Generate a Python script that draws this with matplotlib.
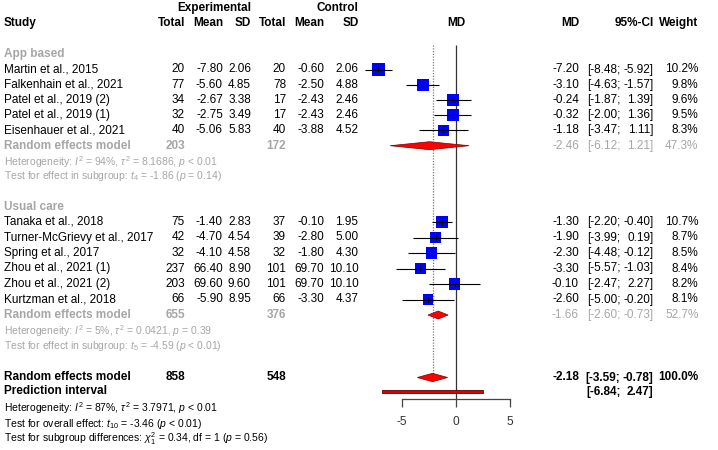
import matplotlib
matplotlib.use('Agg')
import matplotlib.pyplot as plt
from matplotlib.patches import Polygon, Rectangle

plt.rcParams['font.family'] = ['Liberation Sans', 'DejaVu Sans']
plt.rcParams['mathtext.fontset'] = 'custom'
plt.rcParams['mathtext.rm'] = 'Liberation Sans'
plt.rcParams['mathtext.it'] = 'Liberation Sans:italic'
plt.rcParams['mathtext.bf'] = 'Liberation Sans:bold'

# ---------------- data ----------------
app_studies = ["Martin et al., 2015", "Falkenhain et al., 2021", "Patel et al., 2019 (2)",
               "Patel et al., 2019 (1)", "Eisenhauer et al., 2021"]
app_e_total = [20, 77, 34, 32, 40]
app_e_mean = [-7.80, -5.60, -2.67, -2.75, -5.06]
app_e_sd = [2.06, 4.85, 3.38, 3.49, 5.83]
app_c_total = [20, 78, 17, 17, 40]
app_c_mean = [-0.60, -2.50, -2.43, -2.43, -3.88]
app_c_sd = [2.06, 4.88, 2.46, 2.46, 4.52]
app_md = [-7.20, -3.10, -0.24, -0.32, -1.18]
app_lo = [-8.48, -4.63, -1.87, -2.00, -3.47]
app_hi = [-5.92, -1.57, 1.39, 1.36, 1.11]
app_w = [10.2, 9.8, 9.6, 9.5, 8.3]

uc_studies = ["Tanaka et al., 2018", "Turner-McGrievy et al., 2017", "Spring et al., 2017",
              "Zhou et al., 2021 (1)", "Zhou et al., 2021 (2)", "Kurtzman et al., 2018"]
uc_e_total = [75, 42, 32, 237, 203, 66]
uc_e_mean = [-1.40, -4.70, -4.10, 66.40, 69.60, -5.90]
uc_e_sd = [2.83, 4.54, 4.58, 8.90, 9.60, 8.95]
uc_c_total = [37, 39, 32, 101, 101, 66]
uc_c_mean = [-0.10, -2.80, -1.80, 69.70, 69.70, -3.30]
uc_c_sd = [1.95, 5.00, 4.30, 10.10, 10.10, 4.37]
uc_md = [-1.30, -1.90, -2.30, -3.30, -0.10, -2.60]
uc_lo = [-2.20, -3.99, -4.48, -5.57, -2.47, -5.00]
uc_hi = [-0.40, 0.19, -0.12, -1.03, 2.27, -0.20]
uc_w = [10.7, 8.7, 8.5, 8.4, 8.2, 8.1]

# subgroup / overall summaries: e_total, c_total, md, lo, hi, weight
app_re = [203, 172, -2.46, -6.12, 1.21, 47.3]
uc_re = [655, 376, -1.66, -2.60, -0.73, 52.7]
overall_re = [858, 548, -2.18, -3.59, -0.78, 100.0]
pred_lo, pred_hi = -6.84, 2.47

app_het = r"Heterogeneity: $I^2$ = 94%, $\tau^2$ = 8.1686, $p$ < 0.01"
app_test = r"Test for effect in subgroup: $t_4$ = -1.86 ($p$ = 0.14)"
uc_het = r"Heterogeneity: $I^2$ = 5%, $\tau^2$ = 0.0421, $p$ = 0.39"
uc_test = r"Test for effect in subgroup: $t_5$ = -4.59 ($p$ < 0.01)"
all_het = r"Heterogeneity: $I^2$ = 87%, $\tau^2$ = 3.7971, $p$ < 0.01"
all_test = r"Test for overall effect: $t_{10}$ = -3.46 ($p$ < 0.01)"
sub_test = r"Test for subgroup differences: $\chi^2_1$ = 0.34, df = 1 ($p$ = 0.56)"

xticks = [-5, 0, 5]

# ---------------- layout (pixels) ----------------
W, H = 718, 450
fig = plt.figure(figsize=(W / 100, H / 100), dpi=100)
tax = fig.add_axes([0, 0, 1, 1])
tax.set_xlim(0, W)
tax.set_ylim(H, 0)
tax.axis('off')

x0_px, ppu = 456.0, 10.77
ax = fig.add_axes([0, 0, 1, 1])
ax.set_xlim(-x0_px / ppu, (W - x0_px) / ppu)
ax.set_ylim(H, 0)
ax.patch.set_alpha(0)
for s in ['top', 'left', 'right']:
    ax.spines[s].set_visible(False)
ax.spines['bottom'].set_position(('data', 399))
ax.spines['bottom'].set_bounds(-5, 5)
ax.spines['bottom'].set_color('#444444')
ax.spines['bottom'].set_linewidth(0.9)
ax.set_yticks([])
ax.set_xticks(xticks)
ax.set_xticklabels([str(t) for t in xticks])
ax.tick_params(axis='x', direction='out', length=5.5, width=0.9, color='#444444',
               labelsize=8.6, labelcolor='#333333', pad=7)

FS = 8.5
FSS = 7.5
GRAY = '#a6a6a6'

# column right edges
c_etot, c_emean, c_esd = 185, 223, 251
c_ctot, c_cmean, c_csd = 286, 324, 358.5
c_md, c_semi, c_ci, c_wt = 579, 620.5, 653.5, 698.5


def txt(x, y, s, ha='right', color='black', bold=False, size=FS):
    tax.text(x, y, s, ha=ha, va='center', color=color, fontsize=size,
             fontweight='bold' if bold else 'normal')


def ci_text(y, lo, hi, color='black', bold=False):
    txt(c_semi, y, "[%.2f;" % lo, color=color, bold=bold)
    txt(c_ci, y, "%.2f]" % hi, color=color, bold=bold)


# headers
txt(c_esd, 8, "Experimental", bold=True)
txt(c_csd, 8, "Control", bold=True)
txt(4, 23, "Study", ha='left', bold=True)
for x, s in [(c_etot, "Total"), (c_emean, "Mean"), (c_esd, "SD"),
             (c_ctot, "Total"), (c_cmean, "Mean"), (c_csd, "SD"),
             (c_md, "MD"), (c_ci, "95%-CI"), (c_wt, "Weight")]:
    txt(x, 23, s, bold=True)
txt(x0_px, 23, "MD", ha='center', bold=True)

# vertical reference lines
ax.vlines(0, 45, 399, color='#333333', lw=0.9, zorder=1)
ax.vlines(overall_re[2], 45, 373.5, color='#777777', lw=0.9, linestyles=(0, (1, 1.2)), zorder=1)


def sq_size(w):
    side_px = 3.86 * w ** 0.5
    return (side_px * 72 / 100) ** 2


def draw_group(label, y_label, ys, studies, et, em, es, ct, cm, cs, md, lo, hi, w,
               re, y_re, het, y_het, test, y_test):
    txt(4, y_label, label, ha='left', color=GRAY, bold=True)
    for i, y in enumerate(ys):
        txt(4, y, studies[i], ha='left')
        txt(c_etot, y, "%d" % et[i])
        txt(c_emean, y, "%.2f" % em[i])
        txt(c_esd, y, "%.2f" % es[i])
        txt(c_ctot, y, "%d" % ct[i])
        txt(c_cmean, y, "%.2f" % cm[i])
        txt(c_csd, y, "%.2f" % cs[i])
        txt(c_md, y, "%.2f" % md[i])
        ci_text(y, lo[i], hi[i])
        txt(c_wt, y, "%.1f%%" % w[i])
    ax.scatter(md, ys, s=[sq_size(v) for v in w], marker='s', color='#0000ff',
               linewidths=0, zorder=3)
    ax.hlines(ys, lo, hi, color='black', lw=0.8, zorder=4)
    ax.vlines(md, [y - 2.5 for y in ys], [y + 2.5 for y in ys], color='black', lw=0.8, zorder=4)
    # summary
    txt(4, y_re, "Random effects model", ha='left', color=GRAY, bold=True)
    txt(c_etot, y_re, "%d" % re[0], color=GRAY, bold=True)
    txt(c_ctot, y_re, "%d" % re[1], color=GRAY, bold=True)
    txt(c_md, y_re, "%.2f" % re[2], color=GRAY)
    ci_text(y_re, re[3], re[4], color=GRAY)
    txt(c_wt, y_re, "%.1f%%" % re[5], color=GRAY)
    ax.add_patch(Polygon([(re[3], y_re), (re[2], y_re - 4), (re[4], y_re), (re[2], y_re + 4)],
                         closed=True, facecolor='#ff0000', edgecolor='#7a0000', lw=0.5, zorder=3))
    txt(4, y_het, het, ha='left', color=GRAY, size=FSS)
    txt(4, y_test, test, ha='left', color=GRAY, size=FSS)


draw_group("App based", 54, [69.5, 84.7, 99.9, 115.1, 130.4], app_studies,
           app_e_total, app_e_mean, app_e_sd, app_c_total, app_c_mean, app_c_sd,
           app_md, app_lo, app_hi, app_w, app_re, 145.7, app_het, 162, app_test, 176)

draw_group("Usual care", 207.5, [222, 237.5, 253, 268.5, 284, 299.5], uc_studies,
           uc_e_total, uc_e_mean, uc_e_sd, uc_c_total, uc_c_mean, uc_c_sd,
           uc_md, uc_lo, uc_hi, uc_w, uc_re, 315, uc_het, 331.5, uc_test, 346)

# overall
y_all, y_pred = 377.5, 391.5
txt(4, y_all, "Random effects model", ha='left', bold=True)
txt(c_etot, y_all, "%d" % overall_re[0], bold=True)
txt(c_ctot, y_all, "%d" % overall_re[1], bold=True)
txt(c_md, y_all, "%.2f" % overall_re[2], bold=True)
ci_text(y_all, overall_re[3], overall_re[4], bold=True)
txt(c_wt, y_all, "%.1f%%" % overall_re[5], bold=True)
ax.add_patch(Polygon([(overall_re[3], y_all), (overall_re[2], y_all - 4.2),
                      (overall_re[4], y_all), (overall_re[2], y_all + 4.2)],
                     closed=True, facecolor='#ff0000', edgecolor='#7a0000', lw=0.5, zorder=3))
txt(4, y_pred, "Prediction interval", ha='left', bold=True)
ci_text(y_pred, pred_lo, pred_hi, bold=True)
ax.add_patch(Rectangle((pred_lo, y_pred - 1.5), pred_hi - pred_lo, 3,
                       facecolor='#dd0000', edgecolor='#660000', lw=0.6, zorder=3))

txt(4, 408.5, all_het, ha='left', size=FSS)
txt(4, 424, all_test, ha='left', size=FSS)
txt(4, 438.5, sub_test, ha='left', size=FSS)

fig.savefig('out.png', dpi=100)
